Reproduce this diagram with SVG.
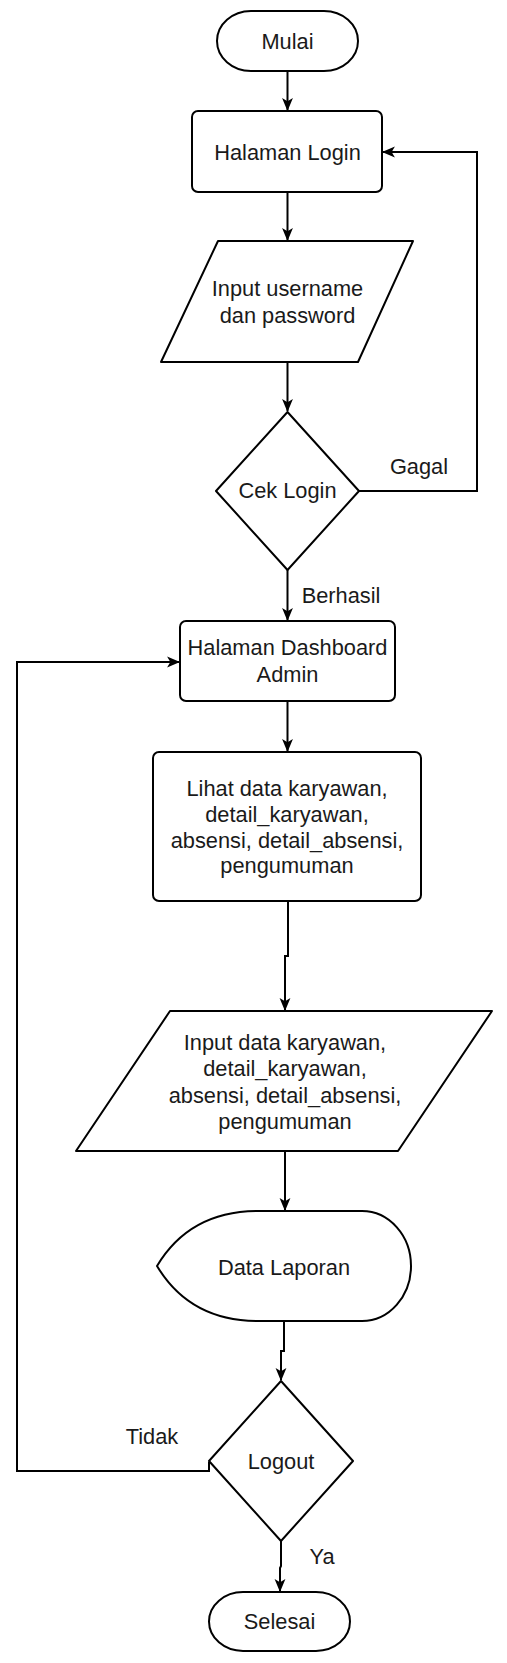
<svg xmlns="http://www.w3.org/2000/svg" width="507" height="1663" viewBox="0 0 507 1663">
<style>
.s{fill:#fff;stroke:#000;stroke-width:2;stroke-linejoin:round}
.c{fill:none;stroke:#000;stroke-width:2}
text{font-family:"Liberation Sans",Arial,sans-serif;font-size:21.8px;fill:#1a1a1a;text-anchor:middle}
</style>
<defs>
<marker id="a" viewBox="0 0 12 12" markerWidth="13" markerHeight="13" refX="11" refY="6" orient="auto" markerUnits="userSpaceOnUse">
<path d="M0,1 L12,6 L0,11 L3,6 Z" fill="#000"/>
</marker>
</defs>
<rect width="507" height="1663" fill="#fff"/>
<g id="connectors">
<path class="c" d="M287.5,71 V110" marker-end="url(#a)"/>
<path class="c" d="M287.5,192 V240" marker-end="url(#a)"/>
<path class="c" d="M287.5,362 V411" marker-end="url(#a)"/>
<path class="c" d="M359,491 H477 V152 H383" marker-end="url(#a)"/>
<path class="c" d="M287.5,570 V620" marker-end="url(#a)"/>
<path class="c" d="M287.5,701 V751" marker-end="url(#a)"/>
<path class="c" d="M288,901 V956 H285 V1010" marker-end="url(#a)"/>
<path class="c" d="M285,1151 V1210" marker-end="url(#a)"/>
<path class="c" d="M284,1321 V1351 H281 V1380" marker-end="url(#a)"/>
<path class="c" d="M209,1462 V1471 H17 V662 H179" marker-end="url(#a)"/>
<path class="c" d="M281,1541 V1566 L280,1568 V1591" marker-end="url(#a)"/>
<text x="419" y="473.5">Gagal</text>
<text x="341" y="602.5">Berhasil</text>
<text x="152" y="1443.5">Tidak</text>
<text x="322" y="1563.5">Ya</text>
</g>
<g id="mulai">
<rect class="s" x="217" y="11" width="141" height="60" rx="34" ry="30"/>
<text x="287.5" y="48.5">Mulai</text>
</g>
<g id="halaman-login">
<rect class="s" x="192" y="111" width="190" height="81" rx="6"/>
<text x="287.5" y="159.5">Halaman Login</text>
</g>
<g id="input-login">
<polygon class="s" points="218,241 413,241 358,362 161,362"/>
<text x="287.5" y="295.5">Input username</text>
<text x="287.5" y="322.5">dan password</text>
</g>
<g id="cek-login">
<polygon class="s" points="287.5,412 359,491 287.5,570 216,491"/>
<text x="287.5" y="498">Cek Login</text>
</g>
<g id="dashboard">
<rect class="s" x="180" y="621" width="215" height="80" rx="6"/>
<text x="287.5" y="654.5">Halaman Dashboard</text>
<text x="287.5" y="681.5">Admin</text>
</g>
<g id="lihat-data">
<rect class="s" x="153" y="752" width="268" height="149" rx="6"/>
<text x="287" y="795.5">Lihat data karyawan,</text>
<text x="287" y="821.5">detail_karyawan,</text>
<text x="287" y="847.5">absensi, detail_absensi,</text>
<text x="287" y="872.5">pengumuman</text>
</g>
<g id="input-data">
<polygon class="s" points="170,1011 492,1011 398,1151 76,1151"/>
<text x="285" y="1049.5">Input data karyawan,</text>
<text x="285" y="1075.5">detail_karyawan,</text>
<text x="285" y="1102.5">absensi, detail_absensi,</text>
<text x="285" y="1128.5">pengumuman</text>
</g>
<g id="data-laporan">
<path class="s" d="M157,1266 Q190,1211 258,1211 H362 A49,55 0 0 1 362,1321 H258 Q190,1321 157,1266 Z"/>
<text x="284" y="1274.5">Data Laporan</text>
</g>
<g id="logout">
<polygon class="s" points="281,1381 353,1461 281,1541 209,1461"/>
<text x="281" y="1468.5">Logout</text>
</g>
<g id="selesai">
<rect class="s" x="209" y="1592" width="141" height="59" rx="34" ry="29.5"/>
<text x="279.5" y="1628.5">Selesai</text>
</g>
</svg>
